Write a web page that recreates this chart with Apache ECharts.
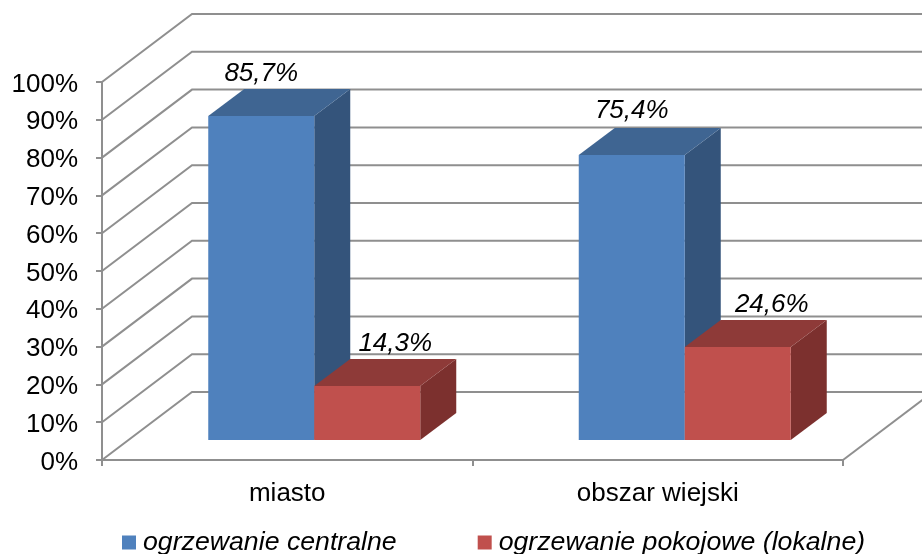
<!DOCTYPE html>
<html><head><meta charset="utf-8">
<style>html,body{margin:0;padding:0;background:#fff}#c{width:922px;height:554px}</style>
<script src="https://cdn.jsdelivr.net/npm/echarts@6/dist/echarts.min.js"></script>
</head><body><div id="c"></div>
<script>
const categories = ['miasto', 'obszar wiejski'];
const centralne = [85.7, 75.4];
const pokojowe = [14.3, 24.6];
const seriesNames = ['ogrzewanie centralne', 'ogrzewanie pokojowe (lokalne)'];
const yTicks = [0, 10, 20, 30, 40, 50, 60, 70, 80, 90, 100];

const FONT = '"Liberation Sans", Arial, sans-serif';
const GRID_COLOR = '#8f8f8f';
const WALL = { dx: 90, dy: -68 };         // depth of the chart box
const FLOOR = { dx: 27, dy: -20 };        // shift of the bars' front face from the front plane
const BAR = { width: 106, dx: 36, dy: -27 };
const LABEL_DY = -42;
const COLORS = [
  { front: '#4F81BD', top: '#3F6592', side: '#34547B' },
  { front: '#C0504D', top: '#8E3A38', side: '#7C302E' }
];
const labelShift = [[0, 28], [0, 34]];
const labelLift = [[0, 0], [2, 0]];

function wallItem(params, api) {
  const cs = params.coordSys;
  const y = api.coord([0, api.value(0)])[1];
  const x0 = cs.x, x1 = cs.x + cs.width;
  const pts = [[x0, y], [x0 + WALL.dx, y + WALL.dy], [x1 + WALL.dx, y + WALL.dy]];
  const children = [{
    type: 'polyline', shape: { points: pts },
    style: { stroke: GRID_COLOR, lineWidth: 2, fill: null }
  }];
  if (api.value(0) === 0) {
    children.push({
      type: 'line', shape: { x1: x1, y1: y, x2: x1 + WALL.dx, y2: y + WALL.dy },
      style: { stroke: GRID_COLOR, lineWidth: 2 }
    });
  }
  return { type: 'group', children };
}

function barRenderer(s) {
  return function (params, api) {
    const c = COLORS[s];
    const cat = api.value(0), val = api.value(1);
    const base = api.coord([cat, 0]);
    const topP = api.coord([cat, val]);
    const xMid = base[0] + FLOOR.dx;
    const x0 = s === 0 ? xMid - BAR.width : xMid;
    const x1 = x0 + BAR.width;
    const yB = base[1] + FLOOR.dy, yT = topP[1] + FLOOR.dy;
    const d = BAR;
    const poly = (points, fill) => ({ type: 'polygon', shape: { points }, style: { fill } });
    return {
      type: 'group',
      children: [
        poly([[x1, yT], [x1 + d.dx, yT + d.dy], [x1 + d.dx, yB + d.dy], [x1, yB]], c.side),
        poly([[x0, yT], [x0 + d.dx, yT + d.dy], [x1 + d.dx, yT + d.dy], [x1, yT]], c.top),
        poly([[x0, yT], [x1, yT], [x1, yB], [x0, yB]], c.front),
        {
          type: 'text',
          style: {
            x: (x0 + x1) / 2 + labelShift[cat][s],
            y: yT + LABEL_DY - labelLift[cat][s],
            text: val.toFixed(1).replace('.', ',') + '%',
            font: 'italic 26px ' + FONT,
            fill: '#000',
            align: 'center',
            verticalAlign: 'middle'
          }
        }
      ]
    };
  };
}

const chart = echarts.init(document.getElementById('c'), null, { renderer: 'canvas' });
chart.setOption({
  animation: false,
  backgroundColor: '#fff',
  textStyle: { fontFamily: FONT },
  grid: { left: 102, right: 79, top: 82, bottom: 94 },
  legend: {
    left: 122, top: 529, padding: 0,
    icon: 'rect', itemWidth: 14, itemHeight: 14, itemGap: 81,
    data: seriesNames,
    selectedMode: false,
    textStyle: { fontFamily: FONT, fontStyle: 'italic', fontSize: 26.7, color: '#000', padding: [0, 0, 0, 2] }
  },
  xAxis: {
    type: 'category', data: categories, boundaryGap: true,
    axisLine: { lineStyle: { color: GRID_COLOR, width: 2 } },
    axisTick: { show: true, length: 6, inside: false, lineStyle: { color: GRID_COLOR, width: 2 } },
    axisLabel: { color: '#000', fontSize: 26, fontFamily: FONT, margin: 21 }
  },
  yAxis: {
    type: 'value', min: 0, max: 100, interval: 10,
    axisLine: { show: true, lineStyle: { color: GRID_COLOR, width: 2 } },
    axisTick: { show: true, length: 6, lineStyle: { color: GRID_COLOR, width: 2 } },
    splitLine: { show: false },
    axisLabel: {
      color: '#000', fontSize: 26, fontFamily: FONT, margin: 24,
      formatter: '{t|{value}%}',
      rich: { t: { color: '#000', fontSize: 26, fontFamily: FONT, padding: [5, 0, 0, 0] } }
    }
  },
  series: [
    { type: 'custom', silent: true, z: 1, data: yTicks.map(v => [v]), encode: { y: 0 }, renderItem: wallItem },
    {
      type: 'custom', name: seriesNames[0], z: 2, itemStyle: { color: COLORS[0].front },
      data: centralne.map((v, i) => [i, v]), encode: { x: 0, y: 1 }, renderItem: barRenderer(0)
    },
    {
      type: 'custom', name: seriesNames[1], z: 3, itemStyle: { color: COLORS[1].front },
      data: pokojowe.map((v, i) => [i, v]), encode: { x: 0, y: 1 }, renderItem: barRenderer(1)
    }
  ]
});
</script></body></html>
